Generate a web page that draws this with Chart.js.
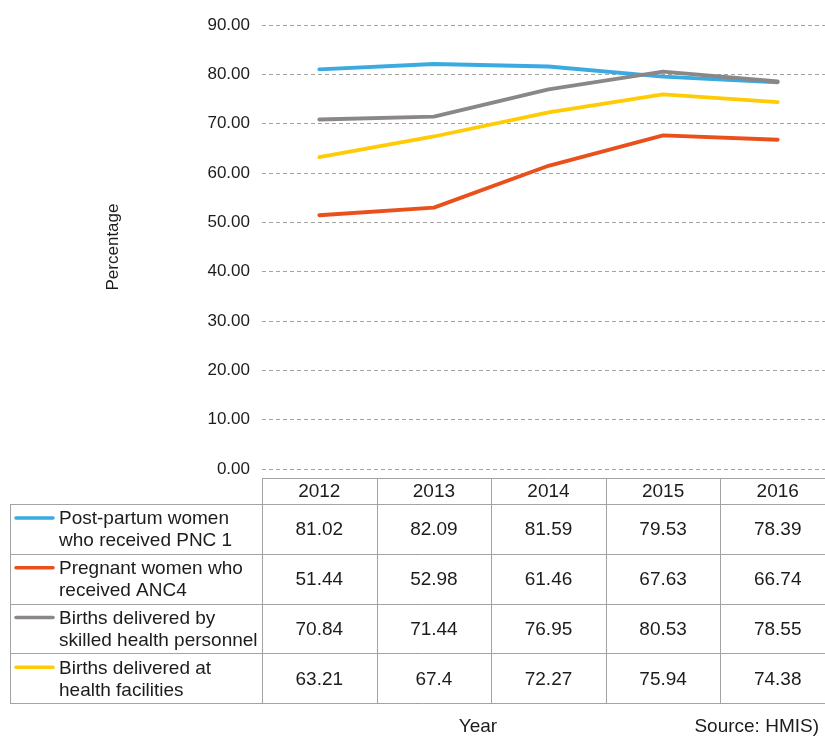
<!DOCTYPE html>
<html>
<head>
<meta charset="utf-8">
<title>Maternal health indicators 2012-2016</title>
<script src="https://cdn.jsdelivr.net/npm/chart.js@4.4.1/dist/chart.umd.min.js"></script>
<style>
  html, body { margin: 0; padding: 0; background: #fff; overflow: hidden; }
  #wrap { position: absolute; left: 0; top: 0; width: 835px; height: 738px; }
</style>
</head>
<body>
<div id="wrap"><canvas id="chart" width="835" height="738"></canvas></div>
<script>
'use strict';

// data
let years = ['2012', '2013', '2014', '2015', '2016'];
let pnc1 = [81.02, 82.09, 81.59, 79.53, 78.39];
let anc4 = [51.44, 52.98, 61.46, 67.63, 66.74];
let skilled = [70.84, 71.44, 76.95, 80.53, 78.55];
let facility = [63.21, 67.4, 72.27, 75.94, 74.38];

let seriesNames = [
  ['Post-partum women', 'who received PNC 1'],
  ['Pregnant women who', 'received ANC4'],
  ['Births delivered by', 'skilled health personnel'],
  ['Births delivered at', 'health facilities']
];
let seriesValues = [pnc1, anc4, skilled, facility];
let seriesColors = ['#3aaae1', '#e9501c', '#8b8787', '#ffcb05'];

let yTicks = { min: 0, max: 90, step: 10 };

const FONT = '"Liberation Sans", Arial, Helvetica, sans-serif';
const TEXT = '#1c1c1c';
const LINE = '#a3a3a3';

// the data table under the plot, columns taken from the x scale
const tablePlugin = {
  id: 'dataTable',
  afterDraw(chart) {
    const ctx = chart.ctx;
    const x = chart.scales.x;
    const half = (x.getPixelForValue(1) - x.getPixelForValue(0)) / 2;
    const tableLeft = 10;
    const labelRight = chart.chartArea.left;
    const tableRight = x.getPixelForValue(years.length - 1) + half;
    const headTop = 478, headBot = 504, rowH = 49.8;
    const bottom = headBot + rowH * seriesValues.length;

    ctx.save();
    ctx.strokeStyle = LINE;
    ctx.lineWidth = 1;
    ctx.beginPath();
    // horizontal lines
    ctx.moveTo(labelRight, headTop + 0.5);
    ctx.lineTo(tableRight, headTop + 0.5);
    for (let r = 0; r <= seriesValues.length; r++) {
      let y = Math.round(headBot + rowH * r) + 0.5;
      ctx.moveTo(tableLeft, y);
      ctx.lineTo(tableRight, y);
    }
    // vertical lines
    ctx.moveTo(tableLeft + 0.5, headBot);
    ctx.lineTo(tableLeft + 0.5, bottom);
    for (let i = 0; i <= years.length; i++) {
      let xx = Math.round(x.getPixelForValue(i) - half) + 0.5;
      ctx.moveTo(xx, headTop);
      ctx.lineTo(xx, bottom);
    }
    ctx.stroke();

    ctx.fillStyle = TEXT;
    ctx.font = '19px ' + FONT;
    ctx.textBaseline = 'middle';
    ctx.textAlign = 'center';
    for (let i = 0; i < years.length; i++) {
      ctx.fillText(years[i], x.getPixelForValue(i), (headTop + headBot) / 2 + 1);
    }
    for (let r = 0; r < seriesValues.length; r++) {
      let top = headBot + rowH * r;
      let mid = top + rowH / 2;
      ctx.textAlign = 'center';
      for (let i = 0; i < years.length; i++) {
        ctx.fillText(String(seriesValues[r][i]), x.getPixelForValue(i), mid + 1);
      }
      // legend key + label
      ctx.strokeStyle = seriesColors[r];
      ctx.lineWidth = 3.5;
      ctx.lineCap = 'round';
      ctx.beginPath();
      ctx.moveTo(16, mid - 11);
      ctx.lineTo(53, mid - 11);
      ctx.stroke();
      ctx.textAlign = 'left';
      ctx.fillText(seriesNames[r][0], 59, mid - 10);
      ctx.fillText(seriesNames[r][1], 59, mid + 12);
    }

    ctx.textAlign = 'center';
    ctx.fillText('Year', 478, 727);
    ctx.textAlign = 'right';
    ctx.fillText('Source: HMIS)', 819, 727);
    ctx.restore();
  }
};

new Chart(document.getElementById('chart').getContext('2d'), {
  type: 'line',
  data: {
    labels: years,
    datasets: seriesValues.map((vals, i) => ({
      label: seriesNames[i].join(' '),
      data: vals,
      borderColor: seriesColors[i],
      backgroundColor: seriesColors[i],
      borderWidth: 3.8,
      borderCapStyle: 'round',
      borderJoinStyle: 'round',
      pointRadius: 0,
      tension: 0,
      order: seriesValues.length - i
    }))
  },
  options: {
    responsive: false,
    animation: false,
    devicePixelRatio: 1,
    layout: { padding: { left: 99, top: 25, right: 0, bottom: 261 } },
    plugins: {
      legend: { display: false },
      tooltip: { enabled: false }
    },
    scales: {
      x: {
        type: 'category',
        offset: true,
        grid: { display: false },
        ticks: { display: false },
        border: { display: false }
      },
      y: {
        min: yTicks.min,
        max: yTicks.max,
        afterFit(scale) { scale.width = 163; },
        ticks: {
          stepSize: yTicks.step,
          padding: 12,
          color: TEXT,
          font: { family: FONT, size: 17 },
          callback: v => v.toFixed(2)
        },
        grid: { color: LINE, lineWidth: 1, drawTicks: false },
        border: { display: false, dash: [4, 3] },
        title: {
          display: true,
          text: 'Percentage',
          color: TEXT,
          font: { family: FONT, size: 17 }
        }
      }
    }
  },
  plugins: [tablePlugin]
});
</script>
</body>
</html>
